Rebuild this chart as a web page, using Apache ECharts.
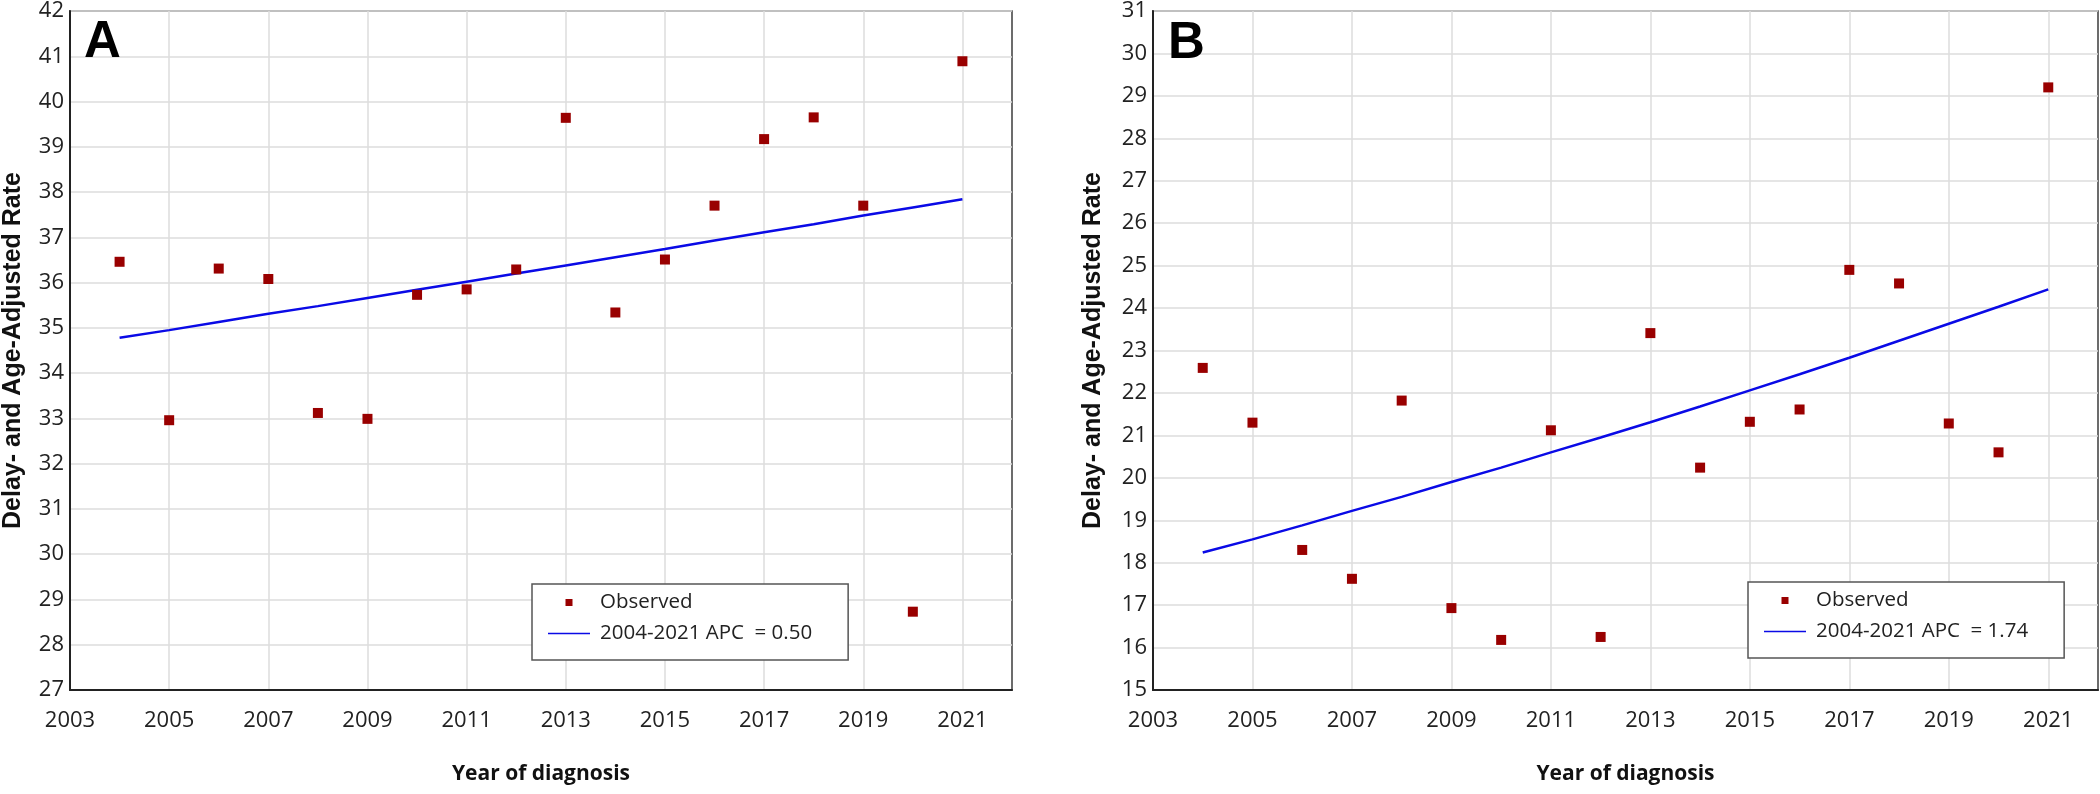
<!DOCTYPE html>
<html>
<head>
<meta charset="utf-8">
<script src="https://cdn.jsdelivr.net/npm/echarts@6/dist/echarts.min.js"></script>
<style>
html,body{margin:0;padding:0;background:#ffffff;}
#chart{width:2100px;height:794px;}
</style>
</head>
<body>
<div id="chart"></div>
<script>
// ---- data ----
const axisYears = ['2003','2004','2005','2006','2007','2008','2009','2010','2011','2012',
                   '2013','2014','2015','2016','2017','2018','2019','2020','2021','2022'];
const years = ['2004','2005','2006','2007','2008','2009','2010','2011','2012',
               '2013','2014','2015','2016','2017','2018','2019','2020','2021'];

const observedA = [36.46, 32.96, 36.31, 36.08, 33.12, 32.99, 35.73, 35.85, 36.29,
                   39.64, 35.34, 36.51, 37.70, 39.17, 39.65, 37.70, 28.73, 40.89];
const trendA    = [34.78, 34.95, 35.13, 35.31, 35.48, 35.66, 35.84, 36.02, 36.20,
                   36.38, 36.56, 36.74, 36.93, 37.11, 37.29, 37.48, 37.66, 37.84];

const observedB = [22.59, 21.30, 18.30, 17.62, 21.82, 16.93, 16.18, 21.12, 16.25,
                   23.41, 20.24, 21.32, 21.61, 24.90, 24.58, 21.28, 20.60, 29.20];
const trendB    = [18.24, 18.55, 18.88, 19.22, 19.55, 19.90, 20.24, 20.60, 20.95,
                   21.31, 21.68, 22.06, 22.44, 22.83, 23.23, 23.63, 24.03, 24.44];

const observedName = 'Observed';
const trendNameA = '2004-2021 APC  = 0.50';
const trendNameB = '2004-2021 APC  = 1.74';
const yRangeA = [27, 42];
const yRangeB = [15, 31];
const panelLabels = ['A', 'B'];
const xTitle = 'Year of diagnosis';
const yTitle = 'Delay- and Age-Adjusted Rate';

// ---- styles ----
const tickFont = 'Open Sans';
const gridColor = '#dcdcdc';
const markerColor = '#990000';
const lineColor = '#0a0ae6';
// legend icons: 42x8 box with invisible corner points so the shapes keep their size
const iconSquare = 'path://M0,0L0.001,0Z M42,8L41.999,8Z M17.5,0.5L24.5,0.5L24.5,7.5L17.5,7.5Z';
const iconLine = 'path://M0,0L0.001,0Z M42,8L41.999,8Z M0,3.2L42,3.2L42,4.8L0,4.8Z';

function xAxisFor(gridIndex) {
  return {
    type: 'category',
    gridIndex: gridIndex,
    data: axisYears,
    boundaryGap: false,
    name: xTitle,
    nameLocation: 'middle',
    nameGap: 74,
    nameTextStyle: {fontFamily: 'Open Sans', fontWeight: 'bold', fontSize: 21, color: '#111'},
    axisLine: {show: true, lineStyle: {color: '#222', width: 2}},
    axisTick: {show: false},
    axisLabel: {interval: 1, fontFamily: tickFont, fontSize: 22, color: '#222', margin: 20},
    splitLine: {show: true, interval: 1, lineStyle: {color: gridColor, width: 1.5}}
  };
}
function yAxisFor(gridIndex, range, gap) {
  return {
    type: 'value',
    gridIndex: gridIndex,
    min: range[0],
    max: range[1],
    interval: 1,
    name: yTitle,
    nameLocation: 'middle',
    nameGap: gap,
    nameTextStyle: {fontFamily: 'Liberation Sans', fontWeight: 'bold', fontSize: 25, color: '#111'},
    axisLine: {show: true, lineStyle: {color: '#222', width: 2}},
    axisTick: {show: false},
    axisLabel: {fontFamily: tickFont, fontSize: 22, color: '#222', margin: 6},
    splitLine: {show: true, lineStyle: {color: gridColor, width: 1.5}}
  };
}
function legendFor(left, top, trendName) {
  return {
    orient: 'vertical',
    left: left,
    top: top,
    selectedMode: false,
    data: [
      {name: observedName, icon: iconSquare},
      {name: trendName, icon: iconLine}
    ],
    itemWidth: 42,
    itemHeight: 8,
    itemGap: 10,
    padding: [8, 36, 16, 16],
    borderColor: '#555',
    borderWidth: 1.5,
    backgroundColor: '#ffffff',
    textStyle: {fontFamily: tickFont, fontSize: 20.5, color: '#222', padding: [6, 0, 0, 5]}
  };
}
function scatterSeries(idx, vals) {
  return {
    name: observedName,
    type: 'scatter',
    xAxisIndex: idx, yAxisIndex: idx,
    symbol: 'rect',
    symbolSize: 10,
    itemStyle: {color: markerColor, opacity: 1},
    z: 5,
    data: years.map((y, i) => [y, vals[i]])
  };
}
function lineSeries(idx, name, vals) {
  return {
    name: name,
    type: 'line',
    xAxisIndex: idx, yAxisIndex: idx,
    showSymbol: false,
    symbol: 'none',
    smooth: false,
    lineStyle: {color: lineColor, width: 2.5},
    itemStyle: {color: lineColor},
    z: 4,
    data: years.map((y, i) => [y, vals[i]])
  };
}

const chart = echarts.init(document.getElementById('chart'), null, {renderer: 'canvas'});
chart.setOption({
  backgroundColor: '#ffffff',
  animation: false,
  title: [
    {text: panelLabels[0], left: 79, top: 12, textStyle: {fontFamily: 'Liberation Sans', fontWeight: 'bold', fontSize: 51, color: '#000'}},
    {text: panelLabels[1], left: 1163, top: 13, textStyle: {fontFamily: 'Liberation Sans', fontWeight: 'bold', fontSize: 51, color: '#000'}}
  ],
  grid: [
    {left: 67, top: 9, width: 945, height: 681, show: true, borderColor: '#3c3c3c', borderWidth: 1.5, backgroundColor: 'transparent'},
    {left: 1153, top: 9, width: 945, height: 681, show: true, borderColor: '#3c3c3c', borderWidth: 1.5, backgroundColor: 'transparent'}
  ],
  xAxis: [xAxisFor(0), xAxisFor(1)],
  yAxis: [yAxisFor(0, yRangeA, 44), yAxisFor(1, yRangeB, 47)],
  legend: [legendFor(532, 584, trendNameA), legendFor(1748, 582, trendNameB)],
  series: [
    lineSeries(0, trendNameA, trendA),
    scatterSeries(0, observedA),
    lineSeries(1, trendNameB, trendB),
    scatterSeries(1, observedB)
  ]
});
</script>
</body>
</html>
